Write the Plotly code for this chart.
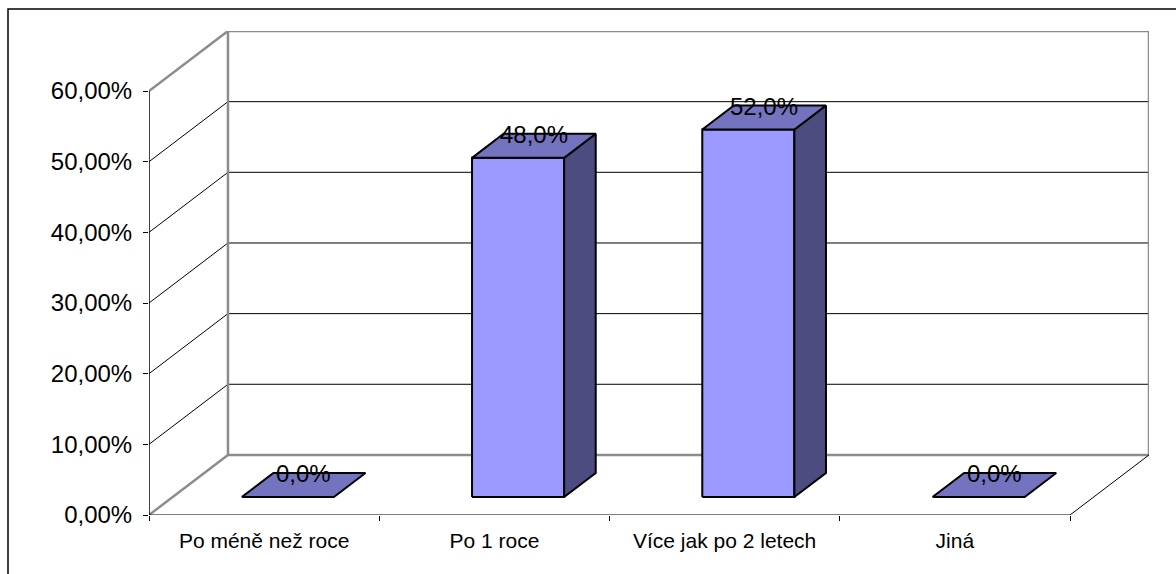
import plotly.graph_objects as go

# Survey answers and their shares (percent)
categories = ["Po méně než roce", "Po 1 roce", "Více jak po 2 letech", "Jiná"]
values = [0.0, 48.0, 52.0, 0.0]
value_labels = ["0,0%", "48,0%", "52,0%", "0,0%"]

y_ticks = [0, 10, 20, 30, 40, 50, 60]
y_tick_labels = ["0,00%", "10,00%", "20,00%", "30,00%", "40,00%", "50,00%", "60,00%"]

# Oblique projection of the chart depth, in axis units
DX = 0.343   # depth shift along the category axis
DY = 8.5     # depth shift along the value axis
YMAX = 60
N = len(categories)
BAR_W = 0.4              # bar width as a fraction of a category slot
BAR_Z0, BAR_Z1 = 0.3, 0.7  # bar front/back position within the depth

FRONT = "#9999FF"
TOP = "#7373BF"
SIDE = "#4C4C80"
WALL = "#8C8C8C"

fig = go.Figure()


def seg(xs, ys, color, width):
    fig.add_trace(go.Scatter(x=xs, y=ys, mode="lines",
                             line=dict(color=color, width=width),
                             hoverinfo="skip", showlegend=False))


def poly(xs, ys, fill):
    fig.add_trace(go.Scatter(x=xs + [xs[0]], y=ys + [ys[0]], mode="lines",
                             fill="toself", fillcolor=fill,
                             line=dict(color="black", width=2),
                             hoverinfo="skip", showlegend=False))


# gridlines on the back wall and the side wall
for v in y_ticks[1:-1]:
    seg([DX, N + DX], [v + DY, v + DY], "black", 1)
    seg([0, DX], [v, v + DY], "black", 1)

# wall borders
seg([DX, N + DX, N + DX, DX, DX], [DY, DY, YMAX + DY, YMAX + DY, DY], WALL, 2.5)
seg([0, DX], [YMAX, YMAX + DY], WALL, 2.5)
seg([0, DX], [0, DY], WALL, 2.5)

# floor edges and value axis
seg([0, N], [0, 0], "black", 1.2)
seg([N, N + DX], [0, DY], "black", 1)
seg([0, 0], [0, YMAX], "black", 1.5)

# 3D bars
depth_x = (BAR_Z1 - BAR_Z0) * DX
depth_y = (BAR_Z1 - BAR_Z0) * DY
for i, v in enumerate(values):
    x0 = i + (1 - BAR_W) / 2 + BAR_Z0 * DX
    x1 = x0 + BAR_W
    y0 = BAR_Z0 * DY
    y1 = v + BAR_Z0 * DY
    if v > 0:
        poly([x0, x1, x1, x0], [y0, y0, y1, y1], FRONT)
        poly([x1, x1 + depth_x, x1 + depth_x, x1],
             [y0, y0 + depth_y, y1 + depth_y, y1], SIDE)
    poly([x0, x1, x1 + depth_x, x0 + depth_x],
         [y1, y1, y1 + depth_y, y1 + depth_y], TOP)
    fig.add_annotation(x=i + 0.5 + 0.5 * DX, y=v + 0.5 * DY,
                       text=value_labels[i], showarrow=False,
                       yanchor="middle", yshift=11,
                       font=dict(size=24, color="black"))

# outer chart frame
fig.add_shape(type="rect", xref="paper", yref="paper",
              x0=-0.141, x1=1.2, y0=-0.3, y1=1.0455,
              line=dict(color="black", width=1.5), fillcolor="rgba(0,0,0,0)",
              layer="below")

fig.update_layout(
    width=1176, height=574,
    margin=dict(l=149, r=27, t=31, b=59),
    paper_bgcolor="white", plot_bgcolor="white",
    font=dict(family="Arial, Liberation Sans, sans-serif", color="black"),
    showlegend=False,
    xaxis=dict(range=[0, N + DX], showgrid=False, zeroline=False, showline=False,
               tickvals=[i + 0.5 for i in range(N)], ticktext=categories,
               ticks="", tickfont=dict(size=21), ticklabelstandoff=11,
               minor=dict(tickvals=list(range(N + 1)), ticks="outside",
                          ticklen=5, tickcolor="black", tickwidth=1.2,
                          showgrid=False),
               fixedrange=True),
    yaxis=dict(range=[0, YMAX + DY], showgrid=False, zeroline=False, showline=False,
               tickvals=y_ticks, ticktext=y_tick_labels,
               ticks="outside", ticklen=5, tickcolor="black", tickwidth=1.2,
               tickfont=dict(size=24), ticklabelstandoff=6,
               fixedrange=True),
)

fig.write_html("out.html")
